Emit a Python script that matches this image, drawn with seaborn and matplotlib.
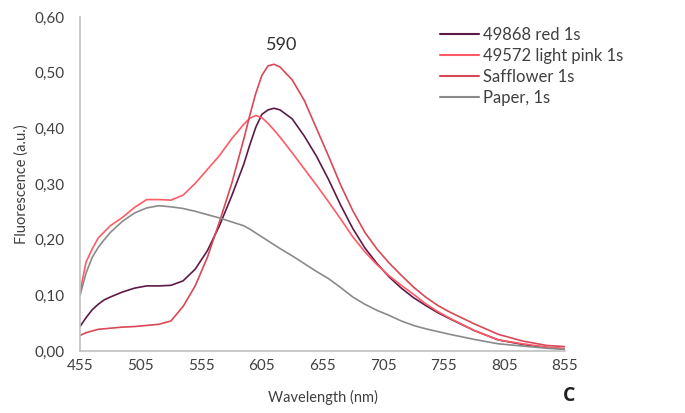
import pandas as pd
import numpy as np
import seaborn as sns
import matplotlib.pyplot as plt
from matplotlib.ticker import FuncFormatter

# wavelengths (nm) shared by all spectra
wavelength = [455, 460, 465, 470, 475, 480, 490, 500, 510, 520, 530, 540, 550,
              560, 570, 580, 590, 595, 600, 605, 610, 615, 620, 630, 640, 650,
              660, 670, 680, 690, 700, 710, 720, 730, 740, 750, 760, 780, 800,
              820, 840, 855]

red_49868 = [0.044, 0.060, 0.074, 0.084, 0.092, 0.097, 0.106, 0.113, 0.117, 0.117,
             0.118, 0.126, 0.147, 0.180, 0.225, 0.278, 0.335, 0.370, 0.402, 0.425,
             0.433, 0.436, 0.433, 0.417, 0.386, 0.350, 0.308, 0.262, 0.220, 0.185,
             0.157, 0.133, 0.113, 0.096, 0.082, 0.069, 0.058, 0.037, 0.020, 0.012,
             0.006, 0.004]

pink_49572 = [0.106, 0.160, 0.183, 0.203, 0.214, 0.225, 0.240, 0.258, 0.272, 0.272,
              0.271, 0.280, 0.301, 0.326, 0.351, 0.381, 0.407, 0.418, 0.423, 0.419,
              0.409, 0.397, 0.384, 0.356, 0.327, 0.298, 0.268, 0.237, 0.205, 0.178,
              0.155, 0.135, 0.118, 0.102, 0.085, 0.071, 0.059, 0.037, 0.020, 0.013,
              0.007, 0.004]

safflower = [0.028, 0.033, 0.036, 0.039, 0.040, 0.041, 0.043, 0.044, 0.046, 0.048,
             0.054, 0.080, 0.117, 0.168, 0.232, 0.300, 0.380, 0.423, 0.463, 0.495,
             0.512, 0.515, 0.510, 0.487, 0.450, 0.400, 0.350, 0.298, 0.252, 0.213,
             0.183, 0.158, 0.136, 0.115, 0.097, 0.082, 0.070, 0.049, 0.030, 0.018,
             0.010, 0.008]

paper = [0.100, 0.140, 0.168, 0.186, 0.200, 0.213, 0.233, 0.248, 0.257, 0.261,
         0.259, 0.256, 0.251, 0.245, 0.239, 0.232, 0.225, 0.219, 0.212, 0.205,
         0.198, 0.191, 0.184, 0.171, 0.157, 0.143, 0.130, 0.114, 0.097, 0.084,
         0.073, 0.064, 0.054, 0.046, 0.040, 0.035, 0.030, 0.021, 0.013, 0.009,
         0.005, 0.003]

series_names = ["49868 red 1s", "49572 light pink 1s", "Safflower 1s", "Paper, 1s"]
series_colors = ["#5e1a47", "#ff5a66", "#d94855", "#8a8a8a"]

frames = []
for name, vals in zip(series_names, [red_49868, pink_49572, safflower, paper]):
    frames.append(pd.DataFrame({"wl": wavelength, "fl": vals, "sample": name}))
df = pd.concat(frames, ignore_index=True)

sns.set_theme(style="white")
plt.rcParams['font.family'] = ['Lato', 'DejaVu Sans']
text_col = "#404040"

fig = plt.figure(figsize=(6.85, 4.13), dpi=100)
ax = fig.add_axes([0.1168, 0.150, 0.708, 0.809])

sns.lineplot(data=df, x="wl", y="fl", hue="sample", hue_order=series_names,
             palette=series_colors, linewidth=1.2, ax=ax, legend=False)

ax.set_xlim(455, 855)
ax.set_ylim(0, 0.6)
ax.set_xticks(np.arange(455, 856, 50))
ax.set_yticks(np.arange(0, 0.61, 0.1))
ax.yaxis.set_major_formatter(FuncFormatter(lambda v, p: f"{v:.2f}".replace(".", ",")))
ax.tick_params(axis="both", length=0, labelsize=11, colors=text_col)
ax.tick_params(axis="y", pad=11)
ax.tick_params(axis="x", pad=6)

for s in ["top", "right"]:
    ax.spines[s].set_visible(False)
for s in ["left", "bottom"]:
    ax.spines[s].set_color("#c0c0c0")
    ax.spines[s].set_linewidth(1.2)

ax.set_xlabel("Wavelength (nm)", fontsize=10.5, color=text_col, labelpad=12)
ax.set_ylabel("Fluorescence (a.u.)", fontsize=10.5, color=text_col, labelpad=4)

# peak annotation
ax.text(621, 0.535, "590", fontsize=13, color="#303030", ha="center", va="bottom")

handles = [plt.Line2D([], [], color=c, linewidth=1.5) for c in series_colors]
fig.legend(handles, series_names, loc="upper left", bbox_to_anchor=(0.621, 0.971),
           frameon=False, fontsize=12, handlelength=2.3, handletextpad=0.25,
           labelspacing=0.3, labelcolor=text_col)

fig.text(0.822, 0.028, "C", fontsize=14, fontweight="bold", color="#202020",
         family=["Open Sans", "DejaVu Sans"])

plt.savefig("out.png", dpi=100)
